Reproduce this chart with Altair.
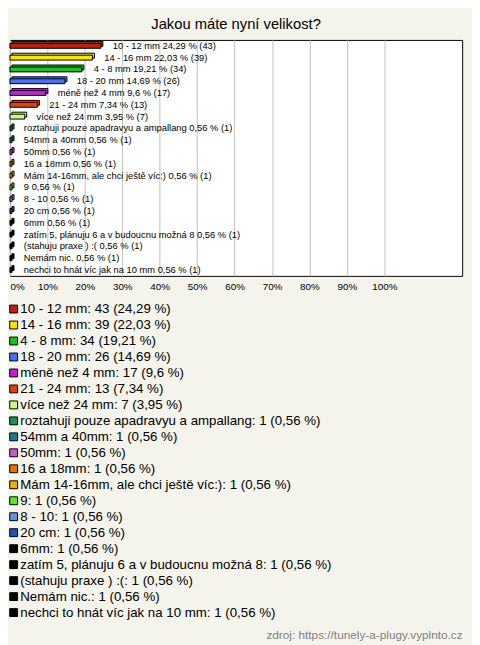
import altair as alt
import pandas as pd

categories = [
    "10 - 12 mm", "14 - 16 mm", "4 - 8 mm", "18 - 20 mm", "méně než 4 mm",
    "21 - 24 mm", "více než 24 mm", "roztahuji pouze apadravyu a ampallang",
    "54mm a 40mm", "50mm", "16 a 18mm", "Mám 14-16mm, ale chci ještě víc:)",
    "9", "8 - 10", "20 cm", "6mm", "zatím 5, plánuju 6 a v budoucnu možná 8",
    "(stahuju praxe ) :(", "Nemám nic.", "nechci to hnát víc jak na 10 mm",
]
counts = [43, 39, 34, 26, 17, 13, 7] + [1] * 13
percents = [24.29, 22.03, 19.21, 14.69, 9.6, 7.34, 3.95] + [0.56] * 13
colors = [
    "#b8200f", "#f4e40c", "#20c020", "#4a70f0", "#c020d0", "#e04010",
    "#c8f888", "#18905c", "#1a7a90", "#c060c0", "#e87010", "#e8b010",
    "#58e838", "#6890e0", "#2050b0", "#000000", "#000000", "#000000",
    "#000000", "#000000",
]
ticks = list(range(0, 101, 10))

def fmt(p):
    return f"{p:g}".replace(".", ",")

bar_labels = [f"{c} {fmt(p)} % ({n})" for c, p, n in zip(categories, percents, counts)]
legend_labels = [f"{c}: {n} ({fmt(p)} %)" for c, p, n in zip(categories, percents, counts)]

df = pd.DataFrame({
    "Cat": categories,
    "Pct": percents,
    "BarLabel": bar_labels,
    "Legend": legend_labels,
})

FONT = "Liberation Sans"

x = alt.X(
    "Pct:Q",
    scale=alt.Scale(domain=[0, 120.8], nice=False, zero=True),
    axis=alt.Axis(
        values=ticks, labelExpr="datum.value + '%'", grid=True, gridColor="#c0c0c0",
        domain=False, ticks=False, labelFontSize=10, labelFont=FONT, labelColor="black",
        labelPadding=6, labelFlush=True,
        title="zdroj: https://tunely-a-plugy.vyplnto.cz", titleAnchor="end",
        titleFontSize=12, titleFontWeight="normal", titleColor="#808080",
        titlePadding=344, titleFont=FONT,
    ),
)
y = alt.Y("Cat:N", sort=categories, axis=None,
          scale=alt.Scale(paddingInner=0, paddingOuter=0))
color = alt.Color(
    "Legend:N", sort=legend_labels,
    scale=alt.Scale(domain=legend_labels, range=colors),
    legend=alt.Legend(
        orient="none", legendX=-3, legendY=267, title=None, direction="vertical",
        symbolType="square", symbolSize=64, symbolStrokeColor="black",
        symbolStrokeWidth=1, symbolOpacity=1, labelFontSize=13.5, labelFont=FONT,
        labelColor="black", labelLimit=600, rowPadding=1.25, labelOffset=0,
        padding=0,
    ),
)

base = alt.Chart(df)
back = base.mark_bar(size=5, xOffset=2, yOffset=-2, stroke="black", strokeWidth=1, opacity=1).encode(
    x=x, y=y, color=color)
front = base.mark_bar(size=5, stroke="black", strokeWidth=1, opacity=1).encode(
    x=x, y=y, color=color)
text = base.mark_text(align="left", baseline="middle", dx=12, fontSize=9.5, font=FONT,
                      color="black").encode(x=x, y=y, text="BarLabel:N")

chart = (back + front + text).properties(
    width=460, height=240,
    padding={"left": 2, "top": 27, "right": 10, "bottom": 370},
    autosize=alt.AutoSizeParams(type="none"),
    background="#f4f3ec",
    title=alt.Title("Jakou máte nyní velikost?", fontSize=15, font=FONT,
                    fontWeight="normal", anchor="middle", offset=8, color="black",
                    frame="group"),
).configure_view(fill="white", stroke="black", strokeWidth=1)

chart.save("out.html", embed_options={"renderer": "svg", "actions": False})
